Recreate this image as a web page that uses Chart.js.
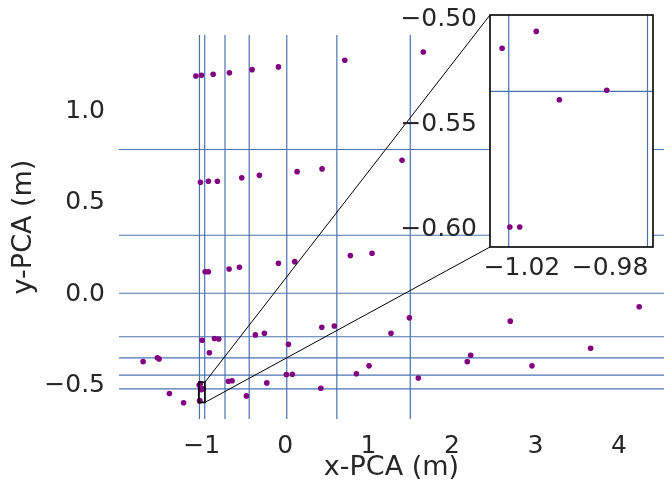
<!DOCTYPE html>
<html>
<head>
<meta charset="utf-8">
<script src="https://cdn.jsdelivr.net/npm/chart.js@4.4.1/dist/chart.umd.min.js"></script>
<style>
  html, body { margin: 0; padding: 0; background: #fff; }
  #wrap { position: relative; width: 664px; height: 492px; }
  #main { position: absolute; left: 0; top: 0; }
  #inset { position: absolute; left: 380px; top: 0; }
</style>
</head>
<body>
<div id="wrap">
  <canvas id="main" width="664" height="492"></canvas>
  <canvas id="inset" width="284" height="300"></canvas>
</div>
<script>
// point cloud (metres)
const xPCA = [-1.069, -1.002, -0.862, -0.667, -0.395, -0.080, 0.715, 1.656,
  -1.014, -0.919, -0.811, -0.519, -0.308, 0.144, 0.443, 1.401,
  -0.958, -0.919, -0.671, -0.547, -0.080, 0.116, 0.782, 1.042,
  1.489, 1.269, 0.440, 0.590, -0.356, -0.248, 0.040, -0.994, -0.847, -0.794, -0.907,
  -1.701, -1.530, -1.510, -1.386, -1.216, -0.679, -0.635, -0.463, -0.219,
  0.016, 0.087, 0.428, 0.854, 1.006, 1.596,
  4.243, 2.698, 2.224, 2.183, 2.958, 3.661,
  -1.029, -1.0135, -1.003, -0.9815, -1.0255, -1.021];
const yPCA = [1.172, 1.176, 1.182, 1.190, 1.207, 1.222, 1.258, 1.303,
  0.592, 0.598, 0.598, 0.617, 0.630, 0.650, 0.665, 0.712,
  0.104, 0.104, 0.119, 0.128, 0.150, 0.159, 0.192, 0.205,
  -0.148, -0.232, -0.199, -0.192, -0.241, -0.232, -0.292, -0.270, -0.261, -0.263, -0.338,
  -0.387, -0.366, -0.372, -0.561, -0.611, -0.494, -0.491, -0.574, -0.503,
  -0.458, -0.456, -0.532, -0.453, -0.410, -0.476,
  -0.087, -0.166, -0.352, -0.387, -0.410, -0.314,
  -0.515, -0.507, -0.5395, -0.535, -0.600, -0.600];

// reference lines
const vLines = [-1.026, -0.963, -0.72, -0.43, 0.02, 0.62, 1.50];
const hLines = [0.771, 0.303, -0.0136, -0.251, -0.366, -0.461, -0.5355];

// ticks
const xTicks = [-1, 0, 1, 2, 3, 4];
const yTicks = [-0.5, 0.0, 0.5, 1.0];
const insetXTicks = [-1.02, -0.98];
const insetYTicks = [-0.60, -0.55, -0.50];

// zoom window
const insetX = [-1.0345, -0.9605];
const insetY = [-0.6095, -0.4992];

const FONT = 'DejaVu Sans';
const TXT = '#262626';
const LINE = '#4c72b0';
const PURPLE = '#800080';
// inset plot area on the page
const INSET_BOX = { left: 490, top: 15, right: 653, bottom: 247 };

const points = xPCA.map((x, i) => ({ x: x, y: yPCA[i] }));

function fmt(v, dec) {
    return (v < 0 ? '\u2212' : '') + Math.abs(v).toFixed(dec);
}

const refLines = {
    id: 'refLines',
    beforeDraw(chart, args, opts) {
        if (!opts.fill) return;
        const a = chart.chartArea;
        chart.ctx.save();
        chart.ctx.fillStyle = '#fff';
        chart.ctx.fillRect(a.left, a.top, a.width, a.height);
        chart.ctx.restore();
    },
    beforeDatasetsDraw(chart) {
        const { ctx, chartArea: a, scales: { x, y } } = chart;
        ctx.save();
        ctx.beginPath();
        ctx.rect(a.left, a.top, a.width, a.height);
        ctx.clip();
        ctx.strokeStyle = LINE;
        ctx.lineWidth = 1.2;
        vLines.forEach(v => {
            const px = x.getPixelForValue(v);
            ctx.beginPath(); ctx.moveTo(px, a.top); ctx.lineTo(px, a.bottom); ctx.stroke();
        });
        hLines.forEach(v => {
            const py = y.getPixelForValue(v);
            ctx.beginPath(); ctx.moveTo(a.left, py); ctx.lineTo(a.right, py); ctx.stroke();
        });
        ctx.restore();
    },
    afterDraw(chart, args, opts) {
        const { ctx, chartArea: a, scales: { x, y } } = chart;
        ctx.save();
        ctx.strokeStyle = '#000';
        if (opts.fill) {
            ctx.lineWidth = 1.6;
            ctx.strokeRect(a.left, a.top, a.width, a.height);
        } else {
            // zoom rectangle + connectors to the inset
            const l = x.getPixelForValue(insetX[0]), r = x.getPixelForValue(insetX[1]);
            const t = y.getPixelForValue(insetY[1]), b = y.getPixelForValue(insetY[0]);
            ctx.lineWidth = 1.6;
            ctx.strokeRect(l, t, r - l, b - t);
            ctx.lineWidth = 1;
            ctx.beginPath();
            ctx.moveTo(r, t); ctx.lineTo(INSET_BOX.left, INSET_BOX.top);
            ctx.moveTo(r, b); ctx.lineTo(INSET_BOX.left, INSET_BOX.bottom);
            ctx.stroke();
        }
        ctx.restore();
    }
};

function axis(min, max, ticks, dec, pad, shift, fitSize, horizontal, title) {
    const o = {
        type: 'linear', min: min, max: max,
        grid: { display: false, drawTicks: false },
        border: { display: false },
        afterBuildTicks: s => { s.ticks = ticks.map(v => ({ value: v })); },
        afterFit: s => {
            if (horizontal) { s.height = fitSize; s.paddingLeft = 0; s.paddingRight = 0; }
            else { s.width = fitSize; s.paddingTop = 0; s.paddingBottom = 0; }
        },
        ticks: {
            color: TXT, font: { family: FONT, size: 25 }, padding: pad, labelOffset: shift,
            maxRotation: 0, autoSkip: false, callback: v => fmt(v, dec)
        }
    };
    if (title) o.title = title;
    return o;
}

new Chart(document.getElementById('inset'), {
    type: 'scatter',
    data: { datasets: [{ data: points, backgroundColor: PURPLE, borderWidth: 0, pointRadius: 2.8, clip: 0 }] },
    options: {
        responsive: false, animation: false,
        layout: { autoPadding: false, padding: { left: 0, top: INSET_BOX.top, right: 284 - (INSET_BOX.right - 380), bottom: 0 } },
        plugins: { legend: { display: false }, tooltip: { enabled: false }, refLines: { fill: true } },
        scales: {
            x: axis(insetX[0], insetX[1], insetXTicks, 2, 6, 0, 300 - INSET_BOX.bottom, true),
            y: axis(insetY[0], insetY[1], insetYTicks, 2, 13, 2.5, INSET_BOX.left - 380, false)
        }
    },
    plugins: [refLines]
});

new Chart(document.getElementById('main'), {
    type: 'scatter',
    data: { datasets: [{ data: points, backgroundColor: PURPLE, borderWidth: 0, pointRadius: 2.8, clip: 0 }] },
    options: {
        responsive: false, animation: false,
        layout: { autoPadding: false, padding: { left: 0, top: 35, right: 0, bottom: 0 } },
        plugins: { legend: { display: false }, tooltip: { enabled: false }, refLines: { fill: false } },
        scales: {
            x: axis(-1.99, 4.54, xTicks, 0, 12, 0, 73, true,
                { display: true, text: 'x-PCA (m)', color: TXT, font: { family: FONT, size: 27 }, padding: { top: 0, bottom: 8 } }),
            y: axis(-0.70, 1.396, yTicks, 1, 14, 3.5, 119, false,
                { display: true, text: 'y-PCA (m)', color: TXT, font: { family: FONT, size: 27 }, padding: { top: 8, bottom: 0 } })
        }
    },
    plugins: [refLines]
});
</script>
</body>
</html>
